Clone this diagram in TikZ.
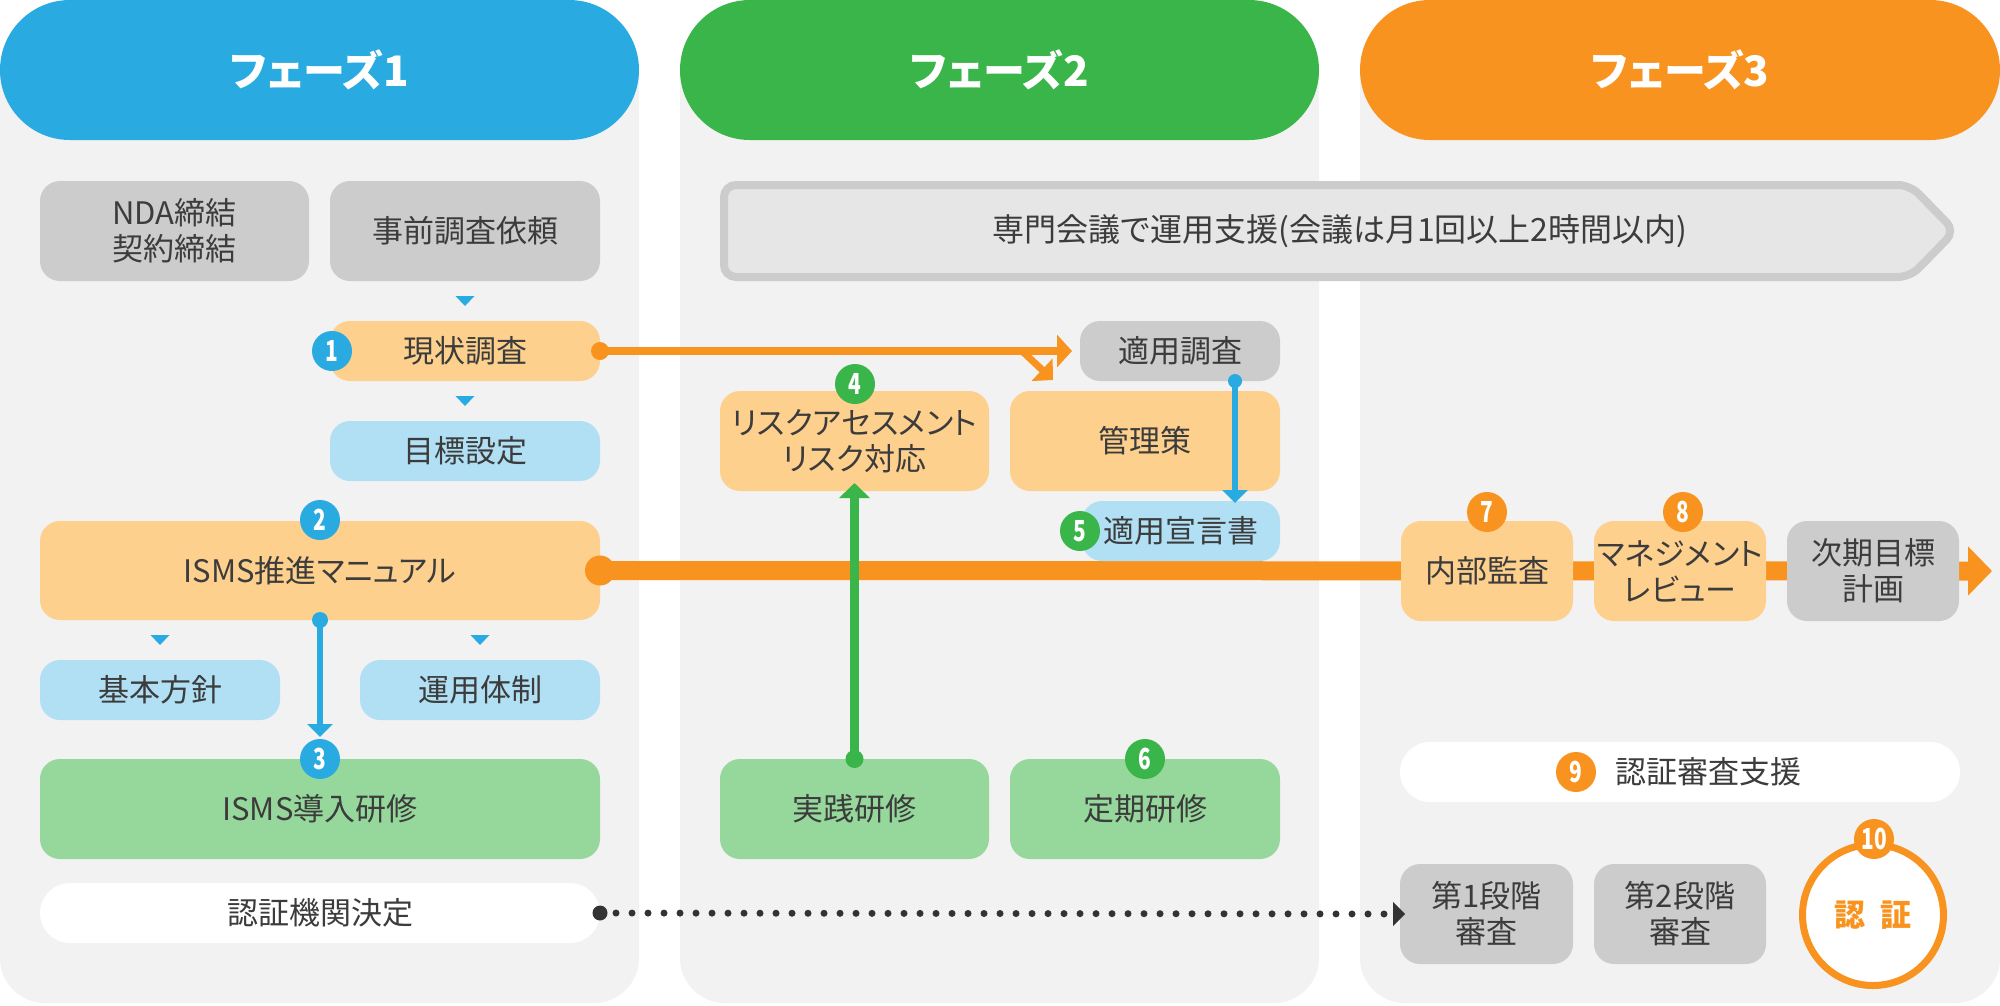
\documentclass[tikz,border=0pt]{standalone}
\usepackage{fontspec}
\setmainfont{Noto Sans CJK JP}[RawFeature=+palt]
\usetikzlibrary{arrows.meta}
\definecolor{cblue}{HTML}{29ABE2}
\definecolor{cgreen}{HTML}{39B54A}
\definecolor{corange}{HTML}{F7931E}
\definecolor{lorange}{HTML}{FDD08D}
\definecolor{lblue}{HTML}{B1E0F4}
\definecolor{lgreen}{HTML}{96D79B}
\definecolor{cgrey}{HTML}{CCCCCC}
\definecolor{panelbg}{HTML}{F2F2F2}
\definecolor{bannerbg}{HTML}{E6E6E6}
\definecolor{txt}{HTML}{3C3C3C}
\definecolor{dotc}{HTML}{333333}
\begin{document}
\begin{tikzpicture}[x=1pt,y=-1pt,
 every node/.style={inner sep=0pt, outer sep=0pt},
 box/.style={rectangle, rounded corners=20pt, text=txt, align=center, font=\fontsize{31}{36}\selectfont},
 gbox/.style={box, fill=cgrey},
 obox/.style={box, fill=lorange},
 bbox/.style={box, fill=lblue},
 lgbox/.style={box, fill=lgreen},
 wpill/.style={box, fill=white, rounded corners=30pt},
 header/.style={rectangle, rounded corners=70pt, minimum height=140pt, text=white, font=\fontsize{42}{42}\selectfont\bfseries},
 num/.style={circle, minimum size=40pt, text=white, font=\fontsize{29}{29}\selectfont\bfseries},
 panel/.style={fill=panelbg},
 tri/.style={fill=cblue},
]
\useasboundingbox (0,0) rectangle (2000,1005);
\fill[white] (0,0) rectangle (2000,1005);
% panels
\fill[panel, rounded corners=45pt] (0,70) rectangle (639,1003);
\fill[panel] (0,70) rectangle (639,200);
\fill[panel, rounded corners=45pt] (680,70) rectangle (1319,1003);
\fill[panel] (680,70) rectangle (1319,200);
\fill[panel, rounded corners=45pt] (1360,70) rectangle (2000,1003);
\fill[panel] (1360,70) rectangle (2000,200);
% headers
\node[header, fill=cblue, minimum width=639pt] (h1) at (319.5,70) {フェーズ1};
\node[header, fill=cgreen, minimum width=639pt] (h2) at (999.5,70) {フェーズ2};
\node[header, fill=corange, minimum width=640pt] (h3) at (1680,70) {フェーズ3};
% banner
\filldraw[draw=cgrey, fill=bannerbg, line width=8pt, rounded corners=12pt]
  (724,185) -- (1910,185) -- (1955,231) -- (1910,277) -- (724,277) -- cycle;
\node[text=txt, font=\fontsize{32}{32}\selectfont] (bantxt) at (1340,231) {専門会議で運用支援(会議は月1回以上2時間以内)};
% long orange line
\coordinate (oend) at (1992,571);
% boxes phase 1
\node[gbox, minimum width=269pt, minimum height=100pt] (nda) at (174.5,231) {NDA締結\\契約締結};
\node[gbox, minimum width=270pt, minimum height=100pt] (pre) at (465,231) {事前調査依頼};
\node[obox, minimum width=270pt, minimum height=60pt] (gen) at (465,351) {現状調査};
\node[bbox, minimum width=270pt, minimum height=60pt] (goal) at (465,451) {目標設定};
\node[obox, minimum width=560pt, minimum height=99pt] (isms) at (320,570.5) {ISMS推進マニュアル};
\draw[corange, line width=19pt, -{Triangle[length=24pt,width=48pt]}] (isms.east) -- (oend);
\node[bbox, minimum width=240pt, minimum height=60pt] (basic) at (160,690) {基本方針};
\node[bbox, minimum width=240pt, minimum height=60pt] (ops) at (480,690) {運用体制};
\node[lgbox, minimum width=560pt, minimum height=100pt] (train) at (320,809) {ISMS導入研修};
\node[wpill, minimum width=560pt, minimum height=60pt] (auth) at (320,913) {認証機関決定};
% boxes phase 2
\node[gbox, minimum width=200pt, minimum height=60pt] (apply) at (1180,351) {適用調査};
\node[obox, minimum width=269pt, minimum height=100pt] (risk) at (854.5,441) {リスクアセスメント\\リスク対応};
\node[obox, minimum width=270pt, minimum height=100pt] (ctrl) at (1145,441) {管理策};
\node[bbox, minimum width=198pt, minimum height=60pt] (decl) at (1181,531) {適用宣言書};
\node[lgbox, minimum width=269pt, minimum height=100pt] (prac) at (854.5,809) {実践研修};
\node[lgbox, minimum width=270pt, minimum height=100pt] (reg) at (1145,809) {定期研修};
% boxes phase 3
\node[obox, minimum width=172pt, minimum height=100pt] (audit) at (1487,571) {内部監査};
\node[obox, minimum width=172pt, minimum height=100pt] (mgmt) at (1680,571) {マネジメント\\レビュー};
\node[gbox, minimum width=172pt, minimum height=100pt] (next) at (1873,571) {次期目標\\計画};
\node[wpill, minimum width=560pt, minimum height=60pt] (supp) at (1680,772) {};
\node[text=txt, font=\fontsize{31}{36}\selectfont] (supptxt) at (1708,772) {認証審査支援};
\node[gbox, minimum width=173pt, minimum height=100pt] (s1) at (1486.5,914) {第1段階\\審査};
\node[gbox, minimum width=172pt, minimum height=100pt] (s2) at (1680,914) {第2段階\\審査};
\node[circle, draw=corange, line width=7pt, fill=white, minimum size=141pt, text=corange, font=\fontsize{31}{31}\selectfont\bfseries] (cert) at (1873,915) {認\hspace{15pt}証};
% small triangles
\fill[tri] ([yshift=20pt]gen.north) ++(-9.5,-5) -- ++(19,0) -- ++(-9.5,10) -- cycle;
\fill[tri] ([yshift=20pt]goal.north) ++(-9.5,-5) -- ++(19,0) -- ++(-9.5,10) -- cycle;
\fill[tri] ([yshift=20pt]basic.north) ++(-9.5,-5) -- ++(19,0) -- ++(-9.5,10) -- cycle;
\fill[tri] ([yshift=20pt]ops.north) ++(-9.5,-5) -- ++(19,0) -- ++(-9.5,10) -- cycle;
% connectors
\fill[corange] (isms.east) circle[radius=15pt];
\draw[corange, line width=8pt, -{Triangle[length=15pt,width=32pt]}, shorten >=8pt] (gen.east) -- (apply.west);
\fill[corange] (gen.east) circle[radius=9pt];
\coordinate (bs) at (1022,351);
\coordinate (bt) at (1053,380);
\draw[corange, line width=7pt, -{Triangle[length=15pt,width=30pt]}] (bs) -- (bt);
\draw[cblue, line width=6pt, -{Triangle[length=13pt,width=25pt]}, shorten >=-2pt] ([xshift=55pt]apply.south) -- ([xshift=54pt]decl.north);
\fill[cblue] ([xshift=55pt]apply.south) circle[radius=7pt];
\draw[cblue, line width=6pt, -{Triangle[length=13pt,width=25pt]}, shorten >=22pt] (isms.south) -- (train.north);
\fill[cblue] (isms.south) circle[radius=8pt];
\draw[cgreen, line width=9pt, -{Triangle[length=15pt,width=30pt]}, shorten >=-8pt] (prac.north) -- (risk.south);
\fill[cgreen] (prac.north) circle[radius=9pt];
\draw[dotc, line width=7pt, line cap=round, dash pattern=on 0pt off 16pt] (auth.east) -- ([xshift=-10pt]s1.west);
\fill[dotc] (auth.east) circle[radius=7.5pt];
\fill[dotc] ([xshift=5pt]s1.west) -- ++(-12,-12) -- ++(0,24) -- cycle;
% number circles
\node[num, fill=cblue] (n1) at (332,351) {\scalebox{0.72}[1]{1}};
\node[num, fill=cblue] (n2) at (320,520) {\scalebox{0.72}[1]{2}};
\node[num, fill=cblue] (n3) at (320,759) {\scalebox{0.72}[1]{3}};
\node[num, fill=cgreen] (n4) at (855,384) {\scalebox{0.72}[1]{4}};
\node[num, fill=cgreen] (n5) at (1080,531) {\scalebox{0.72}[1]{5}};
\node[num, fill=cgreen] (n6) at (1145,759) {\scalebox{0.72}[1]{6}};
\node[num, fill=corange] (n7) at (1487,512) {\scalebox{0.72}[1]{7}};
\node[num, fill=corange] (n8) at (1683,512) {\scalebox{0.72}[1]{8}};
\node[num, fill=corange] (n9) at (1576,772) {\scalebox{0.72}[1]{9}};
\node[num, fill=corange] (n10) at (1874,839) {\scalebox{0.72}[1]{10}};
\end{tikzpicture}
\end{document}
